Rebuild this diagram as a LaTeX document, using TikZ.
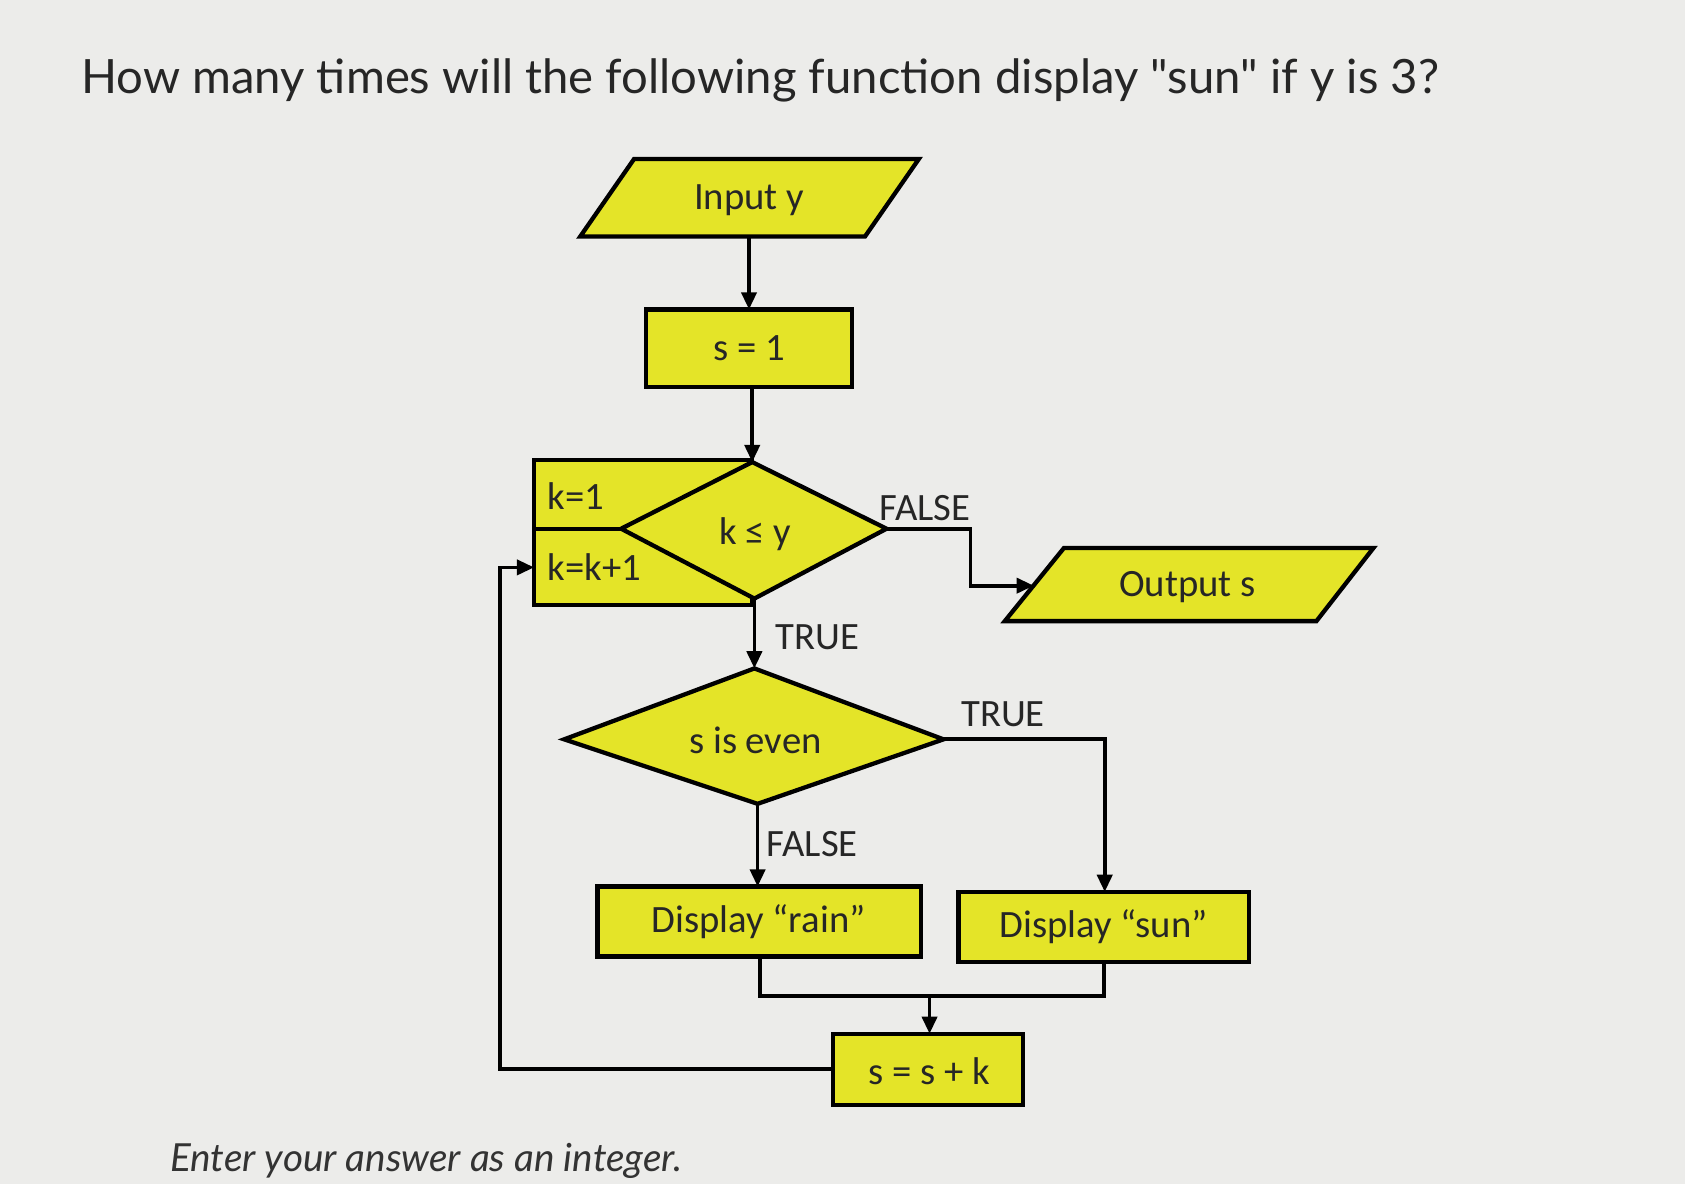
\documentclass[tikz,border=0pt]{standalone}
\usepackage{fontspec}
\setmainfont{Lato}
\newfontfamily\titlefont{Lato}
\newfontfamily\boxfont{Carlito}
\usetikzlibrary{arrows.meta}
\definecolor{fy}{RGB}{228,228,40}
\definecolor{bg}{RGB}{236,236,234}
\begin{document}
\begin{tikzpicture}[x=1pt,y=-1pt,
  shp/.style={draw=black,line width=4pt,fill=fy,line join=miter},
  lbl/.style={font=\boxfont\fontsize{36}{40}\selectfont,text=black!85},
  con/.style={draw=black,line width=3.5pt},
  arr/.style={con,-{Triangle[length=16pt,width=14pt]}}]
\fill[bg] (0,0) rectangle (1568,1102);
\useasboundingbox (0,0) rectangle (1568,1102);
\node[anchor=west,font=\titlefont\fontsize{44}{50}\selectfont,text=black!85] (title) at (72,75) {How many times will the following function display "sun" if y is 3?};
% Input y
\draw[shp] (590,148) -- (855,148) -- (805,220) -- (540,220) -- cycle;
\node[lbl] (in) at (697,186) {Input y};
\coordinate (inB) at (697,220);
% s=1
\draw[shp] (601,288) rectangle (793,360);
\node[lbl] (s1) at (697,324) {s = 1};
\coordinate (s1T) at (697,288);
\coordinate (s1B) at (700,360);
% k boxes
\draw[shp] (497,428) rectangle (700,563);
\draw[shp] (497,492) -- (600,492);
\node[lbl,anchor=west] (k1) at (506,462) {k=1};
\node[lbl,anchor=west] (kk) at (506,528) {k=k+1};
% diamond k<=y
\draw[shp] (700,430) -- (825,492) -- (702,557) -- (578,492) -- cycle;
\node[lbl] (d1) at (703,497) {k ≤ y};
\coordinate (d1T) at (700,430);
\coordinate (d1R) at (825,492);
\coordinate (d1B) at (702,557);
% output s
\draw[shp] (990,510) -- (1278,510) -- (1225,578) -- (935,578) -- cycle;
\node[lbl] (out) at (1105,546) {Output s};
\coordinate (outL) at (962,545);
% diamond s even
\draw[shp] (702,622) -- (878,688) -- (705,748) -- (525,688) -- cycle;
\node[lbl] (d2) at (703,689) {s is even};
\coordinate (d2T) at (702,622);
\coordinate (d2R) at (878,688);
\coordinate (d2B) at (705,748);
% display boxes
\draw[shp] (556,825) rectangle (857,890);
\node[lbl] (rain) at (706,858) {Display “rain”};
\draw[shp] (892,830) rectangle (1162,895);
\node[lbl] (sun) at (1027,862) {Display “sun”};
% s=s+k
\draw[shp] (775,962) rectangle (952,1028);
\node[lbl] (ss) at (865,997) {s = s + k};
% labels
\node[lbl,anchor=west] (f1) at (815,473) {FALSE};
\node[lbl,anchor=west] (t1) at (718,593) {TRUE};
\node[lbl,anchor=west] (t2) at (891,665) {TRUE};
\node[lbl,anchor=west] (f2) at (710,785) {FALSE};
% connectors
\draw[arr] (inB) -- (s1T);
\draw[arr] (s1B) -- (d1T);
\draw[arr] (d1R) -- (903,492) -- (903,545) -- (outL);
\draw[arr] (d1B) -- (d2T);
\draw[arr] (d2B) -- (705,825);
\draw[arr] (d2R) -- (1028,688) -- (1028,830);
\draw[con] (707,890) -- (707,927) -- (1027,927) -- (1027,895);
\draw[arr] (865,927) -- (865,962);
\draw[arr] (775,995) -- (465,995) -- (465,528) -- (497,528);
\node[anchor=west,font=\itshape\fontsize{36}{40}\selectfont,text=black!80] (enter) at (155,1080) {Enter your answer as an integer.};
\end{tikzpicture}
\end{document}
